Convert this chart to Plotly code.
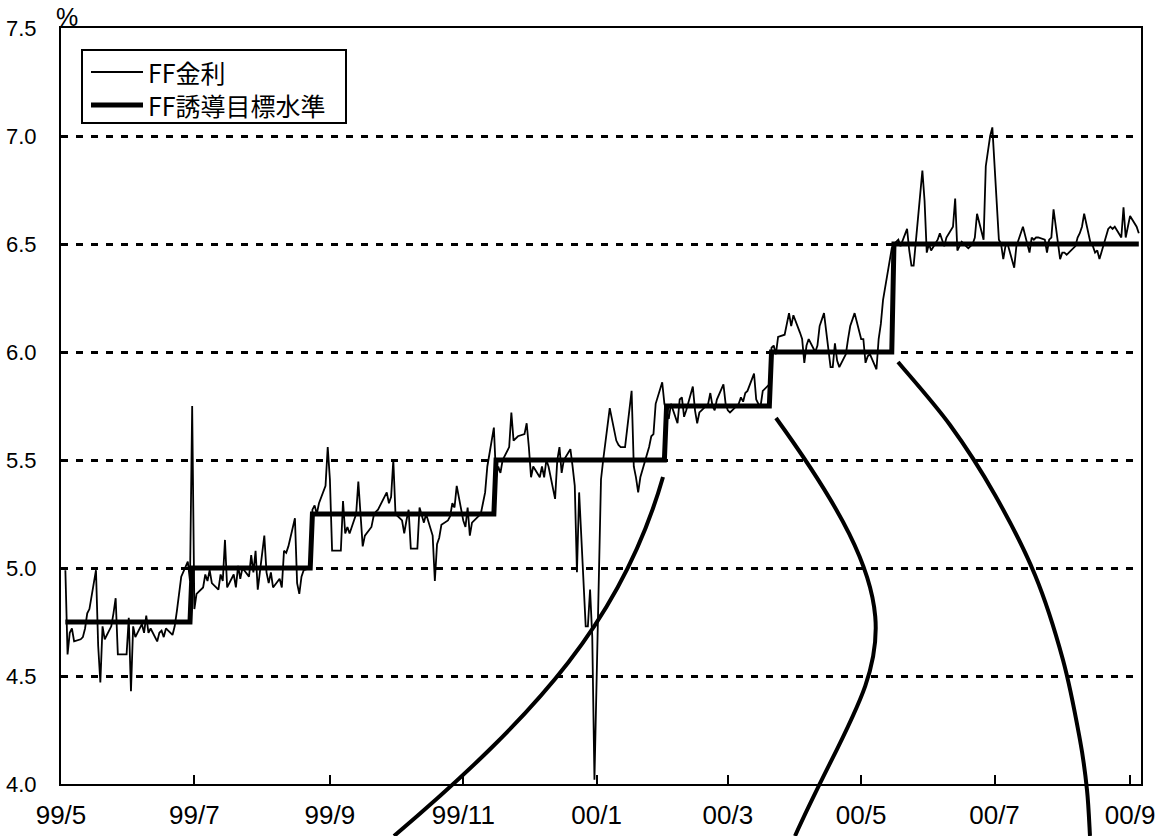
import pandas as pd
import plotly.graph_objects as go

# Daily effective federal funds rate (%), one list per month, business days in order
ff_1999_05 = [4.99, 4.60, 4.70, 4.72, 4.66, 4.67, 4.68, 4.72, 4.79, 4.81, 4.99, 4.64, 4.47,
              4.73, 4.67, 4.73, 4.79, 4.86, 4.60, 4.60, 4.60]
ff_1999_06 = [4.77, 4.43, 4.73, 4.68, 4.74, 4.70, 4.78, 4.70, 4.72, 4.66, 4.70, 4.71, 4.68,
              4.72, 4.69, 4.73, 4.80, 4.87, 4.96, 5.03, 4.94, 5.75]
ff_1999_07 = [4.81, 4.88, 4.91, 4.97, 4.94, 4.99, 4.93, 4.90, 4.97, 4.94, 5.13, 4.91, 4.97,
              4.91, 5.01, 4.95, 5.00, 4.96, 5.06, 4.98, 5.08, 4.90]
ff_1999_08 = [5.15, 4.98, 4.93, 4.98, 4.91, 4.95, 4.91, 5.08, 5.07, 5.10, 5.23, 4.93, 4.88,
              4.96, 4.99, 5.00, 5.27, 5.29, 5.25, 5.30, 5.38, 5.56]
ff_1999_09 = [5.41, 5.08, 5.08, 5.08, 5.31, 5.16, 5.19, 5.16, 5.25, 5.40, 5.25, 5.10, 5.15,
              5.19, 5.24, 5.26, 5.27, 5.29, 5.35, 5.30, 5.33, 5.50]
ff_1999_10 = [5.25, 5.22, 5.16, 5.22, 5.27, 5.09, 5.09, 5.28, 5.24, 5.21, 5.25, 5.15, 4.94,
              5.11, 5.14, 5.20, 5.22, 5.24, 5.30, 5.28, 5.38]
ff_1999_11 = [5.22, 5.19, 5.28, 5.15, 5.21, 5.24, 5.25, 5.30, 5.35, 5.47, 5.65, 5.42, 5.47,
              5.44, 5.50, 5.56, 5.72, 5.59, 5.60, 5.61, 5.62, 5.67]
ff_1999_12 = [5.56, 5.42, 5.47, 5.42, 5.47, 5.42, 5.50, 5.47, 5.32, 5.50, 5.56, 5.44, 5.50,
              5.55, 5.47, 5.38, 4.98, 5.35, 4.73, 4.73, 4.90, 4.68, 4.02]
ff_2000_01 = [5.41, 5.50, 5.59, 5.67, 5.74, 5.59, 5.57, 5.56, 5.56, 5.56, 5.82, 5.47, 5.42,
              5.35, 5.42, 5.52, 5.56, 5.61, 5.62, 5.76, 5.86]
ff_2000_02 = [5.76, 5.72, 5.69, 5.76, 5.67, 5.78, 5.79, 5.70, 5.73, 5.84, 5.73, 5.67, 5.72,
              5.73, 5.76, 5.81, 5.75, 5.73, 5.78, 5.85, 5.76]
ff_2000_03 = [5.73, 5.72, 5.73, 5.76, 5.79, 5.77, 5.81, 5.82, 5.90, 5.78, 5.76, 5.75, 5.82,
              5.85, 6.02, 6.03, 5.99, 6.07, 6.08, 6.13, 6.18, 6.12, 6.17]
ff_2000_04 = [6.09, 6.06, 5.95, 6.03, 6.06, 6.00, 6.03, 6.12, 6.15, 6.18, 5.93, 5.93, 6.04,
              5.96, 5.93, 5.99, 6.06, 6.12, 6.15, 6.18]
ff_2000_05 = [6.06, 6.06, 5.95, 5.98, 5.99, 5.92, 6.06, 6.13, 6.24, 6.30, 6.48, 6.50, 6.51,
              6.52, 6.49, 6.57, 6.47, 6.40, 6.40, 6.52, 6.84, 6.70, 6.46]
ff_2000_06 = [6.50, 6.47, 6.52, 6.55, 6.52, 6.49, 6.53, 6.58, 6.71, 6.47, 6.49, 6.51, 6.48,
              6.49, 6.50, 6.53, 6.64, 6.52, 6.86, 6.93, 7.00, 7.04]
ff_2000_07 = [6.52, 6.50, 6.43, 6.49, 6.50, 6.39, 6.49, 6.52, 6.55, 6.58, 6.46, 6.53, 6.52,
              6.53, 6.53, 6.52, 6.46, 6.52, 6.53, 6.66, 6.43]
ff_2000_08 = [6.46, 6.46, 6.45, 6.46, 6.49, 6.53, 6.55, 6.58, 6.64, 6.50, 6.49, 6.46, 6.47,
              6.43, 6.53, 6.57, 6.58, 6.57, 6.58, 6.53, 6.67, 6.53, 6.58]
ff_2000_09 = [6.63, 6.58, 6.55]

# First business day covered by each monthly list, and the last day of the series
month_starts = ["1999-05-03", "1999-06-01", "1999-07-01", "1999-08-01", "1999-09-01",
                "1999-10-01", "1999-11-01", "1999-12-01", "2000-01-01", "2000-02-01",
                "2000-03-01", "2000-04-01", "2000-05-01", "2000-06-01", "2000-07-01",
                "2000-08-01", "2000-09-01"]
series_end = "2000-09-05"
monthly_ff = [ff_1999_05, ff_1999_06, ff_1999_07, ff_1999_08, ff_1999_09, ff_1999_10,
              ff_1999_11, ff_1999_12, ff_2000_01, ff_2000_02, ff_2000_03, ff_2000_04,
              ff_2000_05, ff_2000_06, ff_2000_07, ff_2000_08, ff_2000_09]

# FOMC target changes: effective date and new target level (%)
target_dates = ["1999-05-03", "1999-06-30", "1999-08-24", "1999-11-16",
                "2000-02-02", "2000-03-21", "2000-05-16"]
target_levels = [4.75, 5.00, 5.25, 5.50, 5.75, 6.00, 6.50]

# Axis labels
x_tick_dates = ["1999-05-01", "1999-07-01", "1999-09-01", "1999-11-01", "2000-01-01",
                "2000-03-01", "2000-05-01", "2000-07-01", "2000-09-01"]
x_tick_text = ["99/5", "99/7", "99/9", "99/11", "00/1", "00/3", "00/5", "00/7", "00/9"]
y_ticks = [4.0, 4.5, 5.0, 5.5, 6.0, 6.5, 7.0, 7.5]

# ---- assemble the daily series ----
dates, ff = [], []
for i, (start, vals) in enumerate(zip(month_starts, monthly_ff)):
    end = (pd.Timestamp(month_starts[i + 1]) - pd.Timedelta(days=1)
           if i + 1 < len(month_starts) else pd.Timestamp(series_end))
    days = pd.bdate_range(start, end)
    n = min(len(days), len(vals))
    dates.extend(days[:n])
    ff.extend(vals[:n])

t_dates = pd.to_datetime(target_dates)
target = []
for d in dates:
    level = target_levels[0]
    for td, lv in zip(t_dates, target_levels):
        if d >= td:
            level = lv
    target.append(level)

# ---- figure geometry (pixels) ----
W, H = 1163, 836
L, R, T, B = 61, 1141, 28, 784
PW, PH = R - L, B - T


def px(x, y):
    """Convert page pixels to paper coordinates."""
    return (x - L) / PW, (B - y) / PH


fig = go.Figure()
fig.add_trace(go.Scatter(x=dates, y=target, mode="lines", name="FF誘導目標水準",
                         line=dict(color="black", width=5), showlegend=False))
fig.add_trace(go.Scatter(x=dates, y=ff, mode="lines", name="FF金利",
                         line=dict(color="black", width=1.8), showlegend=False))

y_font = dict(family="Liberation Sans, Arial, sans-serif", size=22, color="black")
x_font = dict(family="Liberation Sans, Arial, sans-serif", size=26, color="black")
cjk_font = dict(family="Noto Sans CJK JP, sans-serif", size=25, color="black")

fig.update_xaxes(
    type="date", range=["1999-05-01", "2000-09-06"], automargin=False,
    tickvals=x_tick_dates, ticktext=x_tick_text, tickfont=x_font,
    ticks="inside", ticklen=9, tickwidth=2, tickcolor="black", ticklabelstandoff=7,
    showline=True, linecolor="black", linewidth=2, mirror=True,
    showgrid=False, zeroline=False,
)
fig.update_yaxes(
    range=[4.0, 7.5], automargin=False,
    tickvals=y_ticks, ticktext=[f"{v:.1f}" for v in y_ticks],
    tickfont=y_font, ticks="", ticklabelstandoff=18,
    showline=True, linecolor="black", linewidth=2, mirror=True,
    showgrid=True, gridcolor="black", gridwidth=3, griddash="7px,8px",
    zeroline=False,
)

shapes = []
# legend frame and sample lines
x0, y0 = px(82, 50)
x1, y1 = px(346, 123)
shapes.append(dict(type="rect", xref="paper", yref="paper", x0=x0, y0=y1, x1=x1, y1=y0,
                   line=dict(color="black", width=2), fillcolor="white", layer="above"))
for ly, w in ((72, 1.8), (105, 5)):
    a, b = px(91, ly)
    c, _ = px(143, ly)
    shapes.append(dict(type="line", xref="paper", yref="paper", x0=a, y0=b, x1=c, y1=b,
                       line=dict(color="black", width=w), layer="above"))


def bezier_path(points):
    """SVG path from a start point followed by cubic Bezier triples (pixels)."""
    p = [px(*q) for q in points]
    d = "M {:.5f},{:.5f}".format(*p[0])
    for k in range(1, len(p), 3):
        d += " C {:.5f},{:.5f} {:.5f},{:.5f} {:.5f},{:.5f}".format(*p[k], *p[k + 1], *p[k + 2])
    return d


def spline_path(points):
    """Smooth Catmull-Rom curve through the points, as cubic Beziers."""
    p = [px(*q) for q in points]
    d = "M {:.5f},{:.5f}".format(*p[0])
    for k in range(len(p) - 1):
        p0 = p[k - 1] if k > 0 else p[k]
        p1, p2 = p[k], p[k + 1]
        p3 = p[k + 2] if k + 2 < len(p) else p[k + 1]
        c1 = (p1[0] + (p2[0] - p0[0]) / 6, p1[1] + (p2[1] - p0[1]) / 6)
        c2 = (p2[0] - (p3[0] - p1[0]) / 6, p2[1] - (p3[1] - p1[1]) / 6)
        d += " C {:.5f},{:.5f} {:.5f},{:.5f} {:.5f},{:.5f}".format(*c1, *c2, *p2)
    return d


# hand-drawn callout curves running below the axis
callout_paths = [
    bezier_path([(663, 477), (623, 617), (540, 712), (394, 836)]),
    bezier_path([(776, 418), (935, 638), (875, 658), (795, 836)]),
    spline_path([(898, 362), (950, 425), (995, 495), (1035, 575), (1063, 660), (1080, 740),
                 (1087, 790), (1090, 836)]),
]
for path in callout_paths:
    shapes.append(dict(type="path", xref="paper", yref="paper", path=path,
                       line=dict(color="black", width=4), layer="above"))

annotations = []
for ly, label in ((72, "FF金利"), (105, "FF誘導目標水準")):
    a, b = px(146, ly)
    annotations.append(dict(xref="paper", yref="paper", x=a, y=b, text=label,
                            showarrow=False, xanchor="left", yanchor="middle", font=cjk_font))
a, b = px(67, 17)
annotations.append(dict(xref="paper", yref="paper", x=a, y=b, text="%", showarrow=False,
                        xanchor="center", yanchor="middle",
                        font=dict(family="Liberation Sans, Arial, sans-serif", size=25,
                                  color="black")))

fig.update_layout(
    width=W, height=H,
    margin=dict(l=L, r=W - R, t=T, b=H - B),
    paper_bgcolor="white", plot_bgcolor="white",
    showlegend=False, shapes=shapes, annotations=annotations,
)

fig.write_html("out.html")
